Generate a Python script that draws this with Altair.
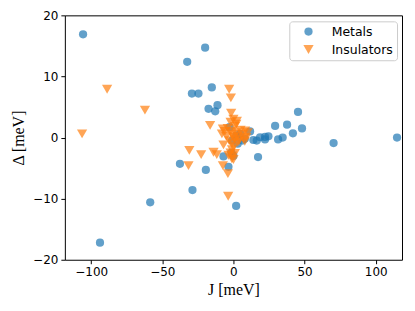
import altair as alt
import pandas as pd

metals_J = [-105.7, -32.5, -19.9, -29.2, -24.6, -15.2, -17.5, -12.8, -11.2, -93.8,
            -58.5, -37.6, -19.4, -28.8, 1.9, 17.3, -7.0, 0.0, -3.5, 115.0,
            70.4, 45.4, 48.2, 37.7, 41.8, 29.3, 34.6, 31.4, 24.6, 22.2,
            22.2, 18.7, 16.4, 11.7, 14.0, 6.3, -2.8, 4.7, 2.0, -1.0,
            8.0, -1.5, 3.0]
metals_D = [16.9, 12.4, 14.7, 7.2, 7.2, 8.2, 4.7, 4.3, 5.3, -17.2,
            -10.6, -4.3, -5.3, -8.6, -11.2, -3.2, -3.1, -3.0, -4.8, 0.0,
            -0.9, 4.2, 1.5, 2.1, 0.7, 1.9, 0.0, -0.3, 0.2, 0.1,
            -0.3, 0.05, -0.5, 1.0, -0.4, -0.5, 1.7, 0.6, 0.3, -0.5,
            -0.2, -2.5, -1.0]

ins_J = [-106.4, -88.8, -62.2, -3.0, -1.8, -1.6, 0.0, 2.4, -16.4, -7.4,
         -8.1, 8.2, -31.0, -22.7, -14.0, -11.7, -7.0, -31.6, -7.4, -3.9,
         -3.7, -1.1, -3.5, -4.0, -2.0, -1.0, 0.0, 1.0, 2.0, 3.0,
         4.0, 5.0, 6.0, 7.0, 9.0, 10.0, -3.0, -1.0, 1.0, 2.0,
         -2.0, -5.0, 0.0, -1.0, -2.0, -1.0, 0.0, 1.0, 3.0, -6.0, 8.0]
ins_D = [0.6, 7.9, 4.5, 7.9, 6.5, 4.0, 3.0, 2.7, 2.0, 1.4,
         0.6, 1.1, -2.1, -2.8, -2.4, -2.8, -1.2, -4.6, -4.6, -5.9,
         -9.6, -3.5, -2.9, 1.5, 1.0, 0.5, 0.0, -0.3, 0.8, 0.2,
         -0.5, 1.2, 0.5, -0.2, 0.0, 0.8, -0.5, -1.0, 1.8, 2.2,
         2.5, 0.2, -1.5, -2.0, -2.5, -3.0, -3.6, -2.6, -0.8, 1.0, -0.6]

categories = ["Metals", "Insulators"]
x_ticks = [-100, -50, 0, 50, 100]
y_ticks = [-20, -10, 0, 10, 20]

df = pd.concat([
    pd.DataFrame({"J": metals_J, "D": metals_D, "type": "Metals"}),
    pd.DataFrame({"J": ins_J, "D": ins_D, "type": "Insulators"}),
], ignore_index=True)

minus = "replace(datum.label, '-', '\u2212')"

legend = alt.Legend(title=None, orient="none", legendX=225, legendY=6,
                    fillColor="white", strokeColor="#cccccc", cornerRadius=3,
                    padding=4, rowPadding=5, labelFontSize=12.5,
                    labelFont="DejaVu Sans", labelOffset=17, symbolOffset=9,
                    symbolStrokeWidth=0, labelColor="black")

chart = alt.Chart(df).mark_point(filled=True, opacity=0.7, strokeWidth=0).encode(
    x=alt.X("J:Q", scale=alt.Scale(domain=[-118.5, 118.5], nice=False, zero=False),
            axis=alt.Axis(values=x_ticks, title="J [meV]", labelExpr=minus)),
    y=alt.Y("D:Q", scale=alt.Scale(domain=[-20, 20], nice=False),
            axis=alt.Axis(values=y_ticks, title="Δ [meV]", labelExpr=minus)),
    color=alt.Color("type:N", scale=alt.Scale(domain=categories, range=["#1f77b4", "#ff7f0e"]),
                    legend=legend),
    shape=alt.Shape("type:N", scale=alt.Scale(domain=categories, range=["circle", "triangle-down"]),
                    legend=legend),
    size=alt.Size("type:N", scale=alt.Scale(domain=categories, range=[68, 105]), legend=legend),
    order=alt.Order("ord:Q"),
).transform_calculate(
    ord="datum.type == 'Metals' ? 0 : 1"
).properties(
    width=338, height=245,
    autosize=alt.AutoSizeParams(type="none"),
    padding={"left": 57, "top": 7, "right": 5, "bottom": 45},
).configure_view(
    stroke="black", strokeWidth=1
).configure_axis(
    grid=False, domain=False, tickColor="black", tickSize=4, tickWidth=1,
    labelColor="black", labelFont="DejaVu Sans", labelFontSize=12, labelPadding=3,
    titleFont="Liberation Serif", titleFontSize=16, titleFontWeight="normal", titleColor="black",
).configure_axisX(titlePadding=4).configure_axisY(titlePadding=6)

chart.save("out.html", embed_options={"renderer": "svg", "actions": False})
